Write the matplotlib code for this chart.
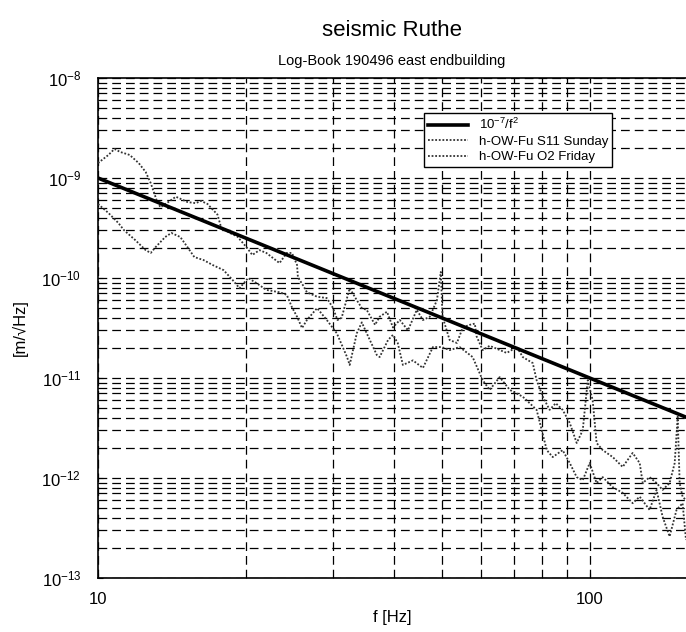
import matplotlib
matplotlib.use("Agg")
import matplotlib.pyplot as plt
import matplotlib.ticker as mticker
import numpy as np

plt.rcParams['font.family'] = ['Liberation Sans', 'DejaVu Sans']
plt.rcParams['mathtext.fontset'] = 'custom'
plt.rcParams['mathtext.rm'] = 'Liberation Sans'
plt.rcParams['mathtext.it'] = 'Liberation Sans:italic'

# h-OW-Fu S11 Sunday
sunday_f = [10, 10.5, 10.8, 11.1, 11.6, 12.1, 12.5, 12.8, 13.2, 13.4, 13.9, 14.4,
            15.2, 15.8, 16.2, 16.7, 17.5, 17.8, 18.6, 19.2, 20.1, 20.6, 21.3, 22.0,
            23.4, 24.2, 24.8, 25.4, 25.5, 26.1, 26.6, 27.9, 29.2, 30.0, 30.7, 31.3,
            32.5, 33.6, 34.4, 35.2, 36.6, 37.4, 38.7, 39.8, 41.1, 42.7, 44.5, 45.8,
            47.3, 48.9, 49.8, 50.2, 51.9, 53.7, 55.2, 57.0, 58.4, 58.9, 60.6, 62.6,
            67.8, 71.1, 73.1, 76.6, 78.0, 80.3, 82.9, 85.3, 88.1, 91.1, 94.1, 96.8,
            99.1, 101.4, 103.3, 106.3, 111.4, 116.7, 122.3, 126.4, 128.2, 132.4,
            136.8, 140.7, 145.4, 148.9, 151.0, 152.4, 154.5, 157]
sunday_a = [1.41e-9, 1.7e-9, 1.95e-9, 1.82e-9, 1.7e-9, 1.41e-9, 1.15e-9, 8.9e-10,
            5.75e-10, 5.1e-10, 5.75e-10, 6.5e-10, 5.75e-10, 5.6e-10, 5.9e-10, 5.5e-10,
            4.3e-10, 3.2e-10, 2.8e-10, 2.6e-10, 2.0e-10, 1.7e-10, 1.9e-10, 1.78e-10,
            1.41e-10, 1.78e-10, 1.78e-10, 1.35e-10, 1.02e-10, 8.5e-11, 7.2e-11, 6.5e-11,
            6.3e-11, 5.1e-11, 3.8e-11, 4.0e-11, 7.9e-11, 6.0e-11, 5.0e-11, 4.8e-11,
            3.4e-11, 4.1e-11, 4.6e-11, 3.2e-11, 3.8e-11, 3.0e-11, 4.8e-11, 3.8e-11,
            4.1e-11, 6.0e-11, 1.15e-10, 4.1e-11, 2.4e-11, 2.24e-11, 3.2e-11, 3.4e-11,
            3.5e-11, 2.6e-11, 1.9e-11, 2.1e-11, 1.78e-11, 2.04e-11, 1.62e-11, 1.41e-11,
            9.5e-12, 6.5e-12, 4.8e-12, 5.6e-12, 4.8e-12, 3.55e-12, 2.24e-12, 3.0e-12,
            9.5e-12, 6.0e-12, 2.24e-12, 1.9e-12, 1.62e-12, 1.29e-12, 1.78e-12, 1.41e-12,
            8.9e-13, 1.02e-12, 8.9e-13, 7.6e-13, 8.9e-13, 1.41e-12, 4.1e-12, 8.9e-13,
            6.5e-13, 6.0e-13]

# h-OW-Fu O2 Friday
friday_f = [10, 10.5, 11.0, 11.3, 11.9, 12.5, 12.8, 13.1, 13.7, 14.1, 14.7, 15.2,
            15.7, 16.4, 17.1, 18.0, 18.8, 19.4, 20.2, 21.0, 22.0, 23.4, 24.2, 24.8,
            25.4, 26.0, 26.6, 27.9, 29.2, 30.6, 32.1, 32.5, 33.6, 34.4, 35.2, 36.9,
            37.4, 38.9, 39.8, 40.7, 41.7, 43.7, 45.8, 48.0, 50.0, 51.9, 54.4, 57.8,
            60.6, 62.6, 65.6, 68.8, 73.1, 75.5, 78.0, 79.9, 81.8, 84.1, 88.1, 91.1,
            94.1, 96.8, 100, 103.3, 106.3, 111.4, 116.7, 122.3, 126.4, 132.4, 136.8,
            140.7, 145.4, 150.2, 154.5, 157]
friday_a = [5.5e-10, 4.47e-10, 3.55e-10, 3.0e-10, 2.4e-10, 1.9e-10, 1.78e-10, 2.04e-10,
            2.57e-10, 2.82e-10, 2.57e-10, 2.04e-10, 1.62e-10, 1.51e-10, 1.35e-10, 1.2e-10,
            9.5e-11, 7.9e-11, 1.0e-10, 8.9e-11, 7.6e-11, 7.2e-11, 6.8e-11, 5.1e-11,
            4.1e-11, 3.16e-11, 3.8e-11, 5.0e-11, 3.8e-11, 2.8e-11, 1.62e-11, 1.35e-11,
            2.8e-11, 3.6e-11, 2.8e-11, 1.7e-11, 1.62e-11, 2.4e-11, 2.7e-11, 2.24e-11,
            1.35e-11, 1.5e-11, 1.26e-11, 2.04e-11, 2.04e-11, 1.9e-11, 2.04e-11, 1.62e-11,
            9.5e-12, 7.6e-12, 1.02e-11, 7.6e-12, 6.5e-12, 5.6e-12, 4.8e-12, 3.0e-12,
            1.9e-12, 1.62e-12, 1.9e-12, 1.41e-12, 1.02e-12, 9.5e-13, 1.41e-12, 8.9e-13,
            1.02e-12, 8.1e-13, 7.1e-13, 5.6e-13, 6.5e-13, 4.8e-13, 7.6e-13, 4.1e-13,
            2.6e-13, 4.8e-13, 5.6e-13, 2.4e-13]

y_ticks = [1e-13, 1e-12, 1e-11, 1e-10, 1e-9, 1e-8]
y_labels = ['10$^{-13}$', '10$^{-12}$', '10$^{-11}$', '10$^{-10}$', '10$^{-9}$', '10$^{-8}$']

f_min, f_max = 10, 157
model_f = np.array([f_min, f_max])
model_a = 1e-7 / model_f**2

fig = plt.figure(figsize=(6.86, 6.32), dpi=100)
ax = fig.add_axes([98/686, 1 - 578/632, 1 - 98/686, 500/632])

ax.plot(model_f, model_a, color='black', lw=2.6, label='10$^{-7}$/f$^{2}$', zorder=4)
ax.plot(sunday_f, sunday_a, color='0.2', lw=1.3, ls=(0, (1, 1)),
        label='h-OW-Fu S11 Sunday', zorder=3)
ax.plot(friday_f, friday_a, color='0.2', lw=1.3, ls=(0, (1, 1)),
        label='h-OW-Fu O2 Friday', zorder=3)

ax.set_xscale('log')
ax.set_yscale('log')
ax.set_xlim(f_min, f_max)
ax.set_ylim(1e-13, 1e-8)
ax.grid(True, which='both', color='black', lw=0.9, ls=(0, (7, 4)))
ax.spines['right'].set_visible(False)
for s in ['left', 'bottom', 'top']:
    ax.spines[s].set_linewidth(1.2)
ax.set_xticks([10, 100])
ax.set_xticklabels(['10', '100'])
ax.set_yticks(y_ticks)
ax.set_yticklabels(y_labels)
ax.xaxis.set_minor_formatter(mticker.NullFormatter())
ax.yaxis.set_minor_formatter(mticker.NullFormatter())
ax.tick_params(which='both', direction='in', labelsize=12)
ax.tick_params(axis='y', pad=12)
ax.tick_params(axis='x', pad=10)

ax.set_xlabel('f [Hz]', fontsize=12, labelpad=2)
ax.set_ylabel('[m/\u221aHz]', fontsize=12, labelpad=10)
ax.set_title('Log-Book 190496 east endbuilding', fontsize=10.5, pad=9)
fig.text(392/686, 1 - 30/632, 'seismic Ruthe', fontsize=16, ha='center', va='center')

leg = ax.legend(loc='upper right', bbox_to_anchor=(0.874, 0.93), borderaxespad=0,
                fontsize=9.5, fancybox=False, edgecolor='black', framealpha=1,
                handlelength=3, labelspacing=0.25, borderpad=0.3)
leg.get_frame().set_linewidth(1.0)

fig.savefig('out.png', dpi=100)
